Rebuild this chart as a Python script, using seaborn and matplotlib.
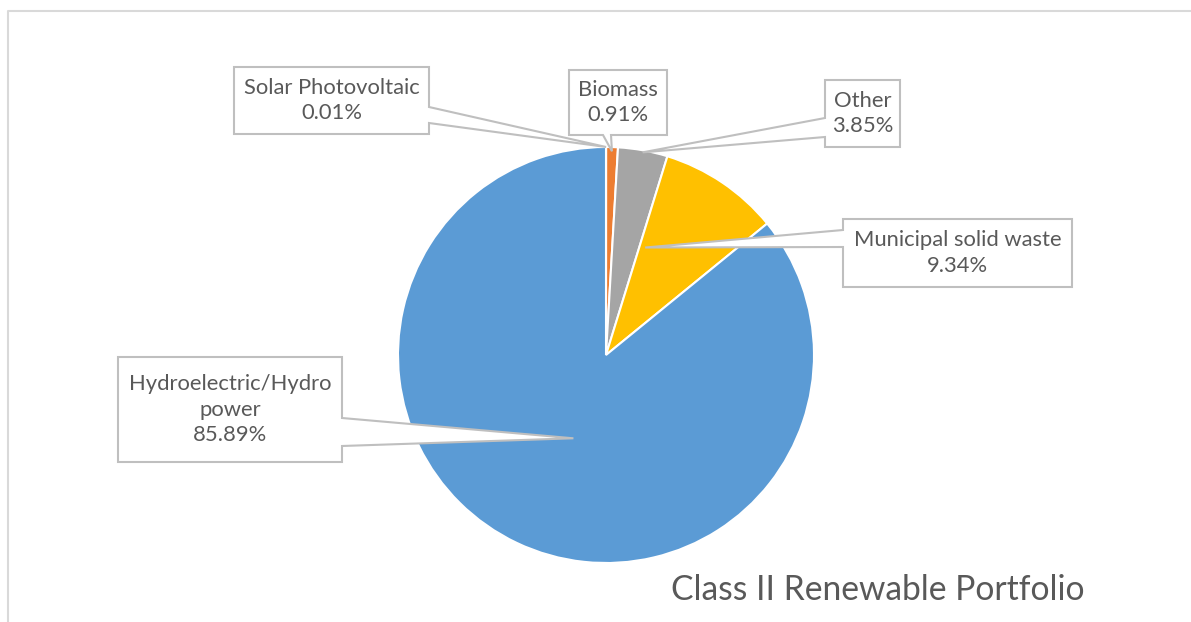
import matplotlib
matplotlib.use("Agg")
import matplotlib.pyplot as plt
from matplotlib.patches import Polygon
import numpy as np
import seaborn as sns

# data (share of Class II portfolio, %)
categories = ["Solar Photovoltaic", "Biomass", "Other", "Municipal solid waste", "Hydroelectric/Hydro\npower"]
shares = [0.01, 0.91, 3.85, 9.34, 85.89]
pct_labels = ["0.01%", "0.91%", "3.85%", "9.34%", "85.89%"]
slice_colors = ["#4472C4", "#ED7D31", "#A5A5A5", "#FFC000", "#5B9BD5"]

# callout layout in pixels (box x0, y0, x1, y1), side where pointer leaves, pointer base
boxes = [(234, 67, 429, 134), (569, 70, 667, 135), (825, 80, 900, 147),
         (843, 219, 1072, 287), (118, 357, 342, 462)]
sides = ["right", "bottom", "left", "left", "right"]
bases = [(107, 123), (603, 611), (118, 137), (230, 247), (418, 446)]
# pointer tip: position within the wedge (fraction of its span) and radius fraction
tips = [(0.5, 1.0), (0.5, 0.98), (0.5, 0.99), (0.085, 0.55), (0.487, 0.43)]

W, H = 1191, 622
CX, CY, R = 606, 355, 208

sns.set_theme(style="white")
plt.rcParams["font.family"] = ["Lato", "DejaVu Sans"]
palette = sns.color_palette(slice_colors)

fig = plt.figure(figsize=(W / 100, H / 100), dpi=100)
ax = fig.add_axes([0, 0, 1, 1])

ax.pie(shares, colors=palette, startangle=90, counterclock=False,
       center=(CX, H - CY), radius=R,
       wedgeprops=dict(edgecolor="white", linewidth=1.5))
ax.set_xlim(0, W)
ax.set_ylim(0, H)
ax.set_aspect("equal")
ax.axis("off")

# chart frame
ax.plot([8, 8, W], [0, H - 11, H - 11], color="#D9D9D9", lw=1.5, solid_capstyle="butt")

cum = np.concatenate([[0], np.cumsum(shares)]) / np.sum(shares)


def callout_poly(box, side, base, tip):
    x0, y0, x1, y1 = box
    a, b = sorted(base)
    tx, ty = tip
    pts = [(x0, y0), (x1, y0)]
    if side == "right":
        pts += [(x1, a), (tx, ty), (x1, b)]
    pts += [(x1, y1)]
    if side == "bottom":
        pts += [(b, y1), (tx, ty), (a, y1)]
    pts += [(x0, y1)]
    if side == "left":
        pts += [(x0, b), (tx, ty), (x0, a)]
    return [(px, H - py) for px, py in pts]


for i, cat in enumerate(categories):
    frac, rr = tips[i]
    ang = 2 * np.pi * (cum[i] + frac * (cum[i + 1] - cum[i]))
    tx = CX + R * rr * np.sin(ang)
    ty = CY - R * rr * np.cos(ang)
    poly = Polygon(callout_poly(boxes[i], sides[i], bases[i], (tx, ty)), closed=True,
                   facecolor="white", edgecolor="#BFBFBF", lw=1.5, zorder=5)
    ax.add_patch(poly)
    x0, y0, x1, y1 = boxes[i]
    ax.text((x0 + x1) / 2, H - (y0 + y1) / 2, f"{cat}\n{pct_labels[i]}",
            ha="center", va="center", fontsize=15.8, color="#595959",
            linespacing=1.32, zorder=6)

ax.text(878, H - 590, "Class II Renewable Portfolio", ha="center", va="center",
        fontsize=24.2, color="#595959")

fig.savefig("out.png", dpi=100)
plt.close(fig)
